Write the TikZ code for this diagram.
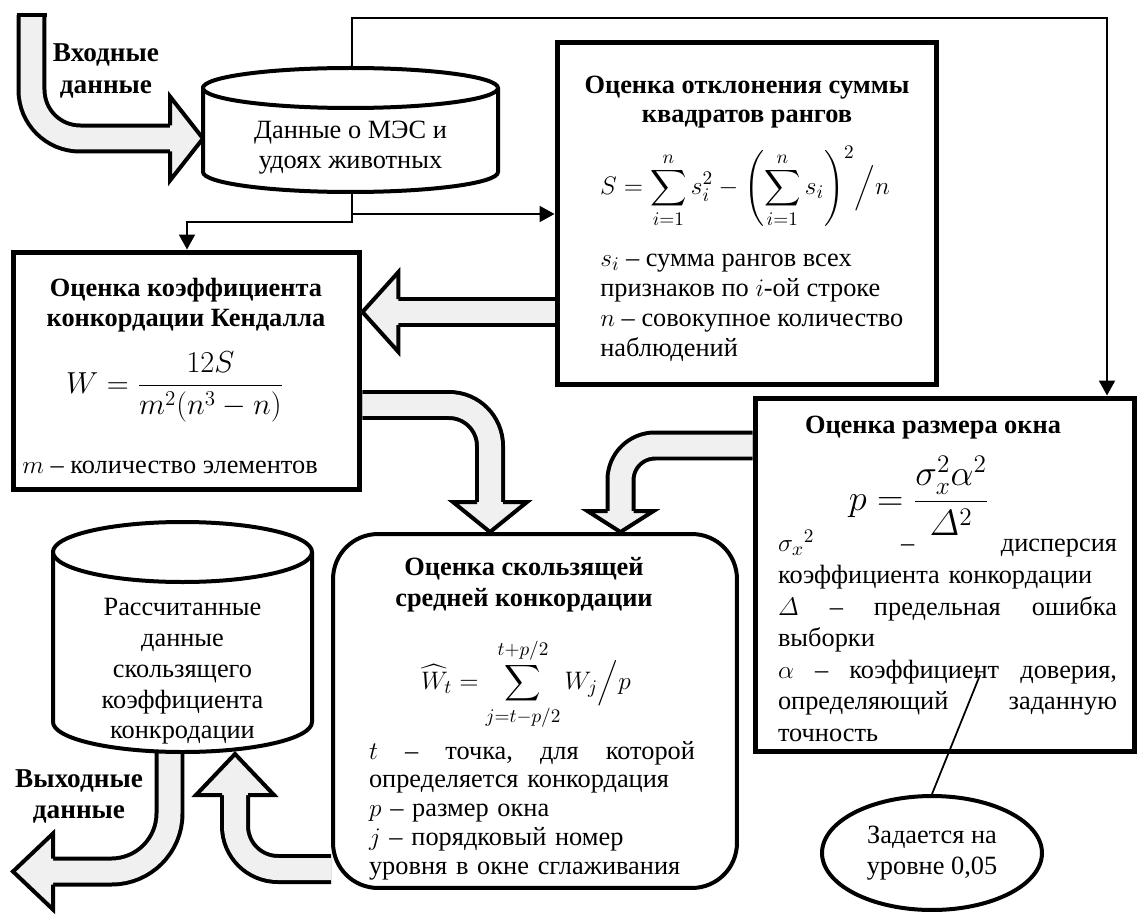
\documentclass[tikz,border=0pt]{standalone}
\usepackage{amsmath}
\usepackage{fontspec}
\setmainfont{Liberation Serif}
\usetikzlibrary{arrows.meta, shapes.geometric, backgrounds}

\newcommand{\fs}{\fontsize{15}{17}\selectfont}
\newcommand{\fsmath}{\fontsize{18.5}{22}\selectfont}
% drum (database) outline: centre x, top rim y, bottom rim y, x radius, y radius
\newcommand{\drum}[5]{%
  \filldraw[drumline] (#1-#4,#2) -- (#1-#4,#3)
    arc[start angle=180, end angle=0, x radius=#4, y radius=#5] -- (#1+#4,#2)
    arc[start angle=0, end angle=-180, x radius=#4, y radius=#5] -- cycle;
  \draw[drumline] (#1-#4,#2) arc[start angle=180, end angle=0, x radius=#4, y radius=#5];}

\tikzset{pics/fathead/.style 2 args={code={
  \fill[black!6] (-#1,-#2) -- (0,0) -- (-#1,#2) -- cycle;
  \draw[line width=0.08cm, line join=miter] (-#1,-13) -- (-#1,-#2) -- (0,0) -- (-#1,#2) -- (-#1,13);
}}}

\begin{document}
\begin{tikzpicture}[x=0.02cm, y=-0.02cm,
  procbox/.style={draw, line width=0.1cm, fill=white, inner sep=0pt},
  movebox/.style={draw, line width=0.08cm, fill=white, rounded corners=0.9cm, inner sep=0pt},
  notebox/.style={draw, ellipse, line width=0.08cm, fill=white, inner sep=0pt, minimum width=4.4cm, minimum height=2.28cm, align=center, font=\fontsize{15}{18}\selectfont},
  headtext/.style={font=\fs\bfseries, align=center, inner sep=0pt},
  mathtext/.style={font=\fsmath, inner sep=0pt},
  legend/.style={font=\fs, align=left, inner sep=0pt},
  dbtext/.style={font=\fs, align=center, inner sep=0pt},
  conn/.style={line width=0.04cm, -{Triangle[length=0.3cm, width=0.32cm]}},
  fatshaft/.style={line width=0.08cm, double=black!6, double distance=0.44cm},
  drumline/.style={line width=0.08cm, fill=white}
]
  \useasboundingbox (0,0) rectangle (1139,922);

  % databases
  \drum{350.5}{88}{172}{147.5}{20}
  \drum{182.5}{552}{722}{129.5}{30}
  \coordinate (inTop) at (352,68);
  \coordinate (inBot) at (352,192);
  \coordinate (inLeft) at (203,138.5);
  \coordinate (outBot) at (182.5,722);
  \node[dbtext] (inDB) at (350.5,148) {Данные о МЭС и\\удоях животных};
  \node[dbtext, font=\fontsize{15}{17.5}\selectfont] (outDB) at (182.5,671.5) {Рассчитанные\\данные\\скользящего\\коэффициента\\конкродации};

  % process boxes
  \node[procbox, minimum width=7.6cm, minimum height=6.86cm] (dev) at (747,213.5) {};
  \node[procbox, minimum width=6.94cm, minimum height=4.76cm] (kendall) at (186.5,371) {};
  \node[procbox, minimum width=7.6cm, minimum height=7.08cm] (window) at (945,575) {};
  \node[movebox, minimum width=8.08cm, minimum height=7.08cm] (move) at (535,711) {};
  \node[notebox] (note) at (932,853) {Задается на\\уровне 0,05};

  % box contents
  \node[headtext, font=\fontsize{15}{16.5}\selectfont\bfseries] (devHead) at (747,102.5) {Оценка отклонения суммы\\квадратов рангов};
  \node[mathtext, font=\fontsize{15}{18}\selectfont] (devEq) at (745,187) {$\displaystyle S=\sum_{i=1}^{n}s_i^2-\Biggl(\sum_{i=1}^{n}s_i\Biggr)^{2}\Big/n$};
  \node[legend, anchor=west] (devText) at (600,308) {$s_i$ – сумма рангов всех\\признаков по $i$-ой строке\\$n$ – совокупное количество\\наблюдений};

  \node[headtext] (kendallHead) at (186,305) {Оценка коэффициента\\конкордации Кендалла};
  \node[mathtext] (kendallEq) at (175,387) {$W=\dfrac{12S}{m^2(n^3-n)}$};
  \node[legend, anchor=west] (kendallText) at (22,467) {$m$ – количество элементов};

  \node[headtext] (windowHead) at (933,428) {Оценка размера окна};
  \node[mathtext, font=\fontsize{20}{24}\selectfont] (windowEq) at (919,496) {$p=\dfrac{\sigma_x^2\alpha^2}{\varDelta^2}$};
  \node[legend, font=\fontsize{15}{18}\selectfont, text width=6.78cm] (windowText) at (947.5,636) {$\sigma_x{}^2$\hfill–\hfill дисперсия\\коэффициента конкордации\\$\varDelta$\hfill–\hfill предельная\hfill ошибка\\выборки\\$\alpha$\hfill–\hfill коэффициент\hfill доверия,\\определяющий\hfill заданную\\точность};

  \node[headtext, font=\fontsize{15}{17.5}\selectfont\bfseries] (moveHead) at (524,585) {Оценка скользящей\\средней конкордации};
  \node[mathtext, font=\fontsize{15}{18}\selectfont] (moveEq) at (526,684) {$\displaystyle\widehat{W}_t=\sum_{j=t-p/2}^{t+p/2}W_j\Big/p$};
  \node[legend, font=\fontsize{15}{16.4}\selectfont, text width=6.52cm] (moveText) at (532,810.5) {$t$\hfill–\hfill точка,\hfill для\hfill которой\\определяется конкордация\\$p$ – размер окна\\$j$ – порядковый номер\\уровня в окне сглаживания};

  % input / output labels
  \node[headtext, font=\fontsize{15.5}{18}\selectfont\bfseries] (inLabel) at (106,71) {Входные\\данные};
  \node[headtext, font=\fontsize{15.5}{18}\selectfont\bfseries] (outLabel) at (79,796.5) {Выходные\\данные};

  % thin connectors
  \draw[conn] (inTop) |- (1107,18) -- (1107,0 |- window.north);
  \draw[conn] (inBot) |- (187,222) -- (187,0 |- kendall.north);
  \draw[conn] (352,214) -- (dev.west |- 0,214);
  \coordinate (noteEnd) at (980,675);
  \draw[line width=0.035cm] (note.north) -- (noteEnd);

  % block arrows
  \begin{scope}[on background layer]
    \draw[fatshaft, rounded corners=0.97cm] (31.5,15) -- (31.5,138.5) -- (170,138.5);
    \draw[line width=0.08cm] (16.5,15) -- (46.5,15);
    \pic at (inLeft) {fathead={33}{42}};
    \draw[fatshaft] (dev.west |- 0,312) -- (397,312);
    \pic[rotate=180] at (kendall.east |- 0,312) {fathead={36}{40}};
    \draw[fatshaft, rounded corners=0.82cm] (kendall.east |- 0,405) -- (490,405) -- (490,503);
    \pic[rotate=-90] at (490,0 |- move.north) {fathead={30}{37}};
    \draw[fatshaft, rounded corners=0.69cm] (window.west |- 0,445.5) -- (620.5,445.5) -- (620.5,512);
    \pic[rotate=-90] at (620.5,0 |- move.north) {fathead={21}{33}};
    \draw[fatshaft, rounded corners=0.86cm] (move.west |- 0,869) -- (235,869) -- (235,795);
    \pic[rotate=90] at (235,754) {fathead={41}{39}};
    \draw[fatshaft, rounded corners=1.16cm] (169.5,0 |- outBot) -- (169.5,871.5) -- (53,871.5);
    \pic[rotate=180] at (13,871.5) {fathead={40}{38}};
  \end{scope}
\end{tikzpicture}
\end{document}
